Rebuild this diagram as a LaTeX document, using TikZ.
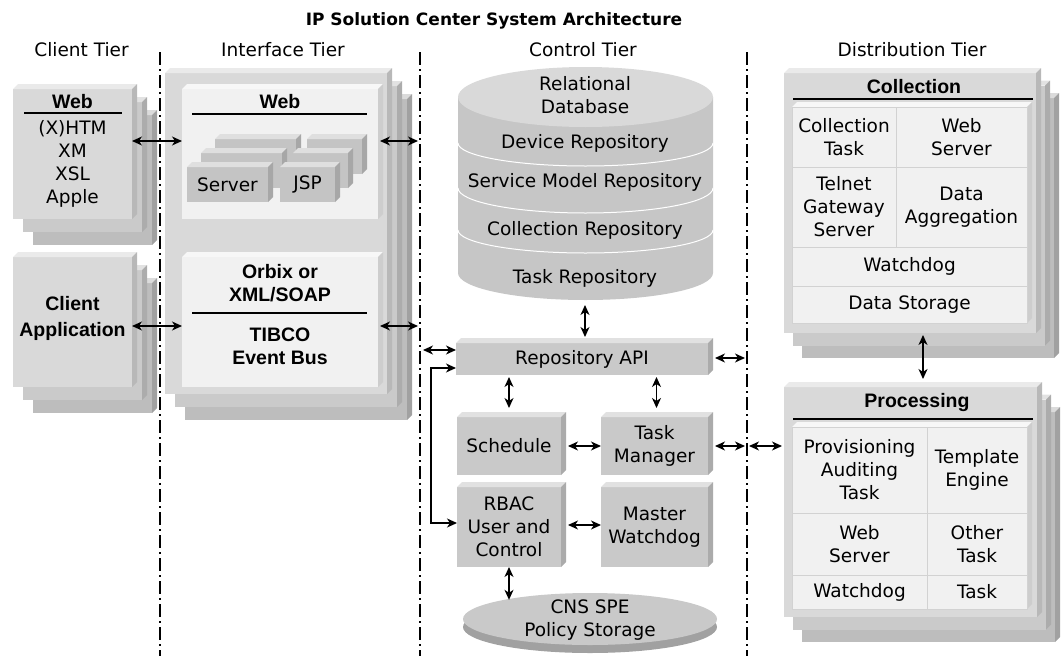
\documentclass[tikz,border=0pt]{standalone}
\usepackage{fontspec}
\setmainfont{DejaVu Sans}
\newfontfamily\boxsans{Liberation Sans}
\usetikzlibrary{arrows.meta,shapes.geometric}

\definecolor{tierA}{HTML}{D9D9D9}
\definecolor{tierB}{HTML}{CACACA}
\definecolor{tierC}{HTML}{BDBDBD}
\definecolor{paneface}{HTML}{F1F1F1}
\definecolor{srvface}{HTML}{C4C4C4}
\definecolor{ctlface}{HTML}{C9C9C9}
\definecolor{cylbody}{HTML}{C6C6C6}
\definecolor{cyltop}{HTML}{D9D9D9}
\definecolor{cellline}{HTML}{D2D2D2}

\newcommand\bodyfont{\fontsize{18.5}{23}\selectfont}
\newcommand\titlefont{\fontsize{17}{23}\selectfont\bfseries}
\newcommand\headfont{\boxsans\fontsize{19.5}{23}\selectfont\bfseries}

\tikzset{
  raised/.style={inner sep=0pt, outer sep=0pt, align=center, font=\bodyfont},
  lbl/.style={inner sep=0pt, align=center, font=\bodyfont},
  ttl/.style={inner sep=0pt, align=center, font=\titlefont},
  hd/.style={inner sep=0pt, align=center, font=\headfont},
  cell/.style={draw=cellline, line width=1pt, fill=paneface, inner sep=0pt, outer sep=0pt, align=center, font=\bodyfont},
  dbl/.style={{Stealth[length=10pt,width=9pt,inset=3pt]}-{Stealth[length=10pt,width=9pt,inset=3pt]}, line width=1.3pt},
  tierline/.style={line width=1.2pt, dash pattern=on 13pt off 4pt on 2pt off 4pt},
  rule/.style={line width=1.1pt},
}

% raised block: name, centre, width, height, colour, text
\newcommand\slab[6]{%
  \node[raised, fill=#5, minimum width=#3pt, minimum height=#4pt] (#1) at (#2) {#6};
  \fill[#5!55!white] (#1.north west) -- ++(5,-5) -- ([shift={(5,-5)}]#1.north east) -- (#1.north east) -- cycle;
  \fill[#5!85!black] (#1.north east) -- ++(5,-5) -- ([shift={(5,-5)}]#1.south east) -- (#1.south east) -- cycle;
}
% three blocks stacked: name, cx, cy, width, height, dx, dy
\newcommand\stack[7]{%
  \slab{#1c}{{#2+2*#6},{#3+2*#7}}{#4}{#5}{tierC}{}
  \slab{#1b}{{#2+#6},{#3+#7}}{#4}{#5}{tierB}{}
  \slab{#1}{#2,#3}{#4}{#5}{tierA}{}
}

\begin{document}
\begin{tikzpicture}[x=1pt,y=-1pt]
\useasboundingbox (0,0) rectangle (1061,656);
% headings
\node[ttl] (title) at (494,21) {IP Solution Center System Architecture};
\node[lbl] (clientT) at (81.5,50) {Client Tier};
\node[lbl] (intfT) at (283,50) {Interface Tier};
\node[lbl] (ctrlT) at (583,50) {Control Tier};
\node[lbl] (distT) at (912,50) {Distribution Tier};
\draw[tierline] (160,52) -- (160,656);
\draw[tierline] (420,52) -- (420,656);
\draw[tierline] (747,52) -- (747,656);

% client tier
\stack{webcl}{72.5}{154}{119}{130}{10}{13}
\node[hd] (webclT) at (72.5,102) {Web};
\draw[rule] (24,113) -- (122,113);
\node[lbl] (webclL) at (72.5,163.5) {(X)HTM\\XM\\XSL\\Apple};
\stack{appcl}{72.5}{322}{119}{130}{10}{13}
\node[hd] (appclT) at (72.5,318) {Client\\[3pt]Application};

% interface tier
\stack{intf}{276}{233.5}{222}{321}{10}{13}
\slab{iweb}{280,154}{196}{130}{paneface}{}
\node[hd] (iwebT) at (280,102) {Web};
\draw[rule] (192,114) -- (367,114);
\slab{srv3}{255.5,156.5}{81}{35}{srvface}{}
\slab{jsp3}{334.5,156.5}{55}{35}{srvface}{}
\slab{srv2}{241.5,170.5}{81}{35}{srvface}{}
\slab{jsp2}{320.5,170.5}{55}{35}{srvface}{}
\slab{srv}{227.5,184.5}{81}{35}{srvface}{Server}
\slab{jsp}{307.5,184.5}{55}{35}{srvface}{JSP}
\slab{orb}{280,322}{196}{130}{paneface}{}
\node[hd] (orbT) at (280,283) {Orbix or\\XML/SOAP};
\draw[rule] (192,313) -- (367,313);
\node[hd] (tibT) at (280,346.5) {TIBCO\\Event Bus};

% control tier
\fill[cylbody] (458,97) -- (458,273) arc[start angle=180, end angle=0, x radius=127.5, y radius=27] -- (713,97) -- cycle;
\fill[cyltop] (585.5,97) ellipse [x radius=127.5, y radius=30];
\draw[white, line width=1pt] (458,143) arc[start angle=180, end angle=0, x radius=127.5, y radius=23];
\draw[white, line width=1pt] (458,188) arc[start angle=180, end angle=0, x radius=127.5, y radius=25];
\draw[white, line width=1pt] (458,230) arc[start angle=180, end angle=0, x radius=127.5, y radius=23];
\coordinate (dbbot) at (585,300);
\node[lbl] (dbT) at (585,95.5) {Relational\\Database};
\node[lbl] (devR) at (585,143) {Device Repository};
\node[lbl] (svcR) at (585,182) {Service Model Repository};
\node[lbl] (colR) at (585,230) {Collection Repository};
\node[lbl] (tskR) at (585,278) {Task Repository};

\slab{repo}{582,359}{252}{32}{ctlface}{Repository API}
\slab{sched}{509,446}{104}{58}{ctlface}{Schedule}
\slab{tmgr}{654.5,446}{107}{58}{ctlface}{Task\\Manager}
\slab{rbac}{509,527}{104}{80}{ctlface}{RBAC\\User and\\Control}
\slab{mwd}{654.5,527}{107}{80}{ctlface}{Master\\Watchdog}

\fill[ctlface!80!black] (590,627) ellipse [x radius=127, y radius=26];
\node[ellipse, fill=ctlface, minimum width=254pt, minimum height=52pt, inner sep=0pt] (cns) at (590,619) {};
\node[lbl] (cnsT) at (590,620.5) {CNS SPE\\Policy Storage};

% distribution tier
\stack{coll}{910}{203}{252}{260}{9}{12.5}
\node[hd] (collT) at (914,87) {Collection};
\draw[rule] (793,99) -- (1033,99);
\slab{collg}{909.5,215}{235}{216}{paneface}{}
\node[cell, minimum width=104pt, minimum height=60pt] (cTask) at (844,137) {Collection\\Task};
\node[cell, minimum width=131pt, minimum height=60pt] (cWeb) at (961.5,137) {Web\\Server};
\node[cell, minimum width=104pt, minimum height=80pt] (cTel) at (844,207) {Telnet\\Gateway\\Server};
\node[cell, minimum width=131pt, minimum height=80pt] (cAgg) at (961.5,207) {Data\\Aggregation};
\node[cell, minimum width=235pt, minimum height=39pt] (cWd) at (909.5,266.5) {Watchdog};
\node[cell, minimum width=235pt, minimum height=37pt] (cSto) at (909.5,304.5) {Data Storage};

\stack{proc}{910.5}{502}{253}{230}{9}{12.5}
\node[hd] (procT) at (917,402) {Processing};
\draw[rule] (793,419) -- (1033,419);
\slab{procg}{909.5,518}{235}{182}{paneface}{}
\node[cell, minimum width=135pt, minimum height=86pt] (pProv) at (859.5,470) {Provisioning\\Auditing\\Task};
\node[cell, minimum width=100pt, minimum height=86pt] (pTpl) at (977,470) {Template\\Engine};
\node[cell, minimum width=135pt, minimum height=62pt] (pWeb) at (859.5,544) {Web\\Server};
\node[cell, minimum width=100pt, minimum height=62pt] (pOth) at (977,544) {Other\\Task};
\node[cell, minimum width=135pt, minimum height=34pt] (pWd) at (859.5,592) {Watchdog};
\node[cell, minimum width=100pt, minimum height=34pt] (pTsk) at (977,592) {Task};

% connectors
\coordinate (ia1) at (418,141);
\coordinate (ia2) at (418,326);
\coordinate (cl1) at (423,350);
\coordinate (cr1) at (745,358);
\coordinate (cr2) at (745,446);
\coordinate (cr3) at (749,446);
\draw[dbl] ([yshift=13pt]webcl.east) -- ([yshift=13pt]iweb.west);
\draw[dbl] ([yshift=-4pt]appcl.east) -- ([yshift=-4pt]orb.west);
\draw[dbl] ([xshift=2pt,yshift=13pt]iweb.east) -- (ia1);
\draw[dbl] ([xshift=2pt,yshift=-4pt]orb.east) -- (ia2);
\draw[dbl] (cl1) -- ([yshift=9pt]repo.west);
\draw[dbl] ([yshift=-9pt]repo.west) -- ++(-25,0) |- ([yshift=4pt]rbac.west);
\draw[dbl] ([xshift=7pt,yshift=1pt]repo.east) -- (cr1);
\draw[dbl, shorten <=5pt, shorten >=6pt] (dbbot) -- (dbbot |- repo.north);
\draw[dbl, shorten <=2pt, shorten >=9pt] (sched.north |- repo.south) -- (sched.north);
\draw[dbl, shorten <=2pt, shorten >=9pt] ([xshift=2pt]tmgr.north |- repo.south) -- ([xshift=2pt]tmgr.north);
\draw[dbl, shorten <=7pt] (sched.east) -- (tmgr.west);
\draw[dbl, shorten <=7pt] ([yshift=2pt]rbac.east) -- ([yshift=2pt]mwd.west);
\draw[dbl, shorten >=-7pt] (rbac.south) -- (rbac.south |- cns.north);
\draw[dbl, shorten <=7pt] (tmgr.east) -- (cr2);
\draw[dbl, shorten >=2pt] (cr3) -- (proc.west |- cr3);
\draw[dbl, shorten <=2pt, shorten >=8pt] ([xshift=13pt]coll.south) -- ([xshift=12.5pt]proc.north);
\end{tikzpicture}
\end{document}
